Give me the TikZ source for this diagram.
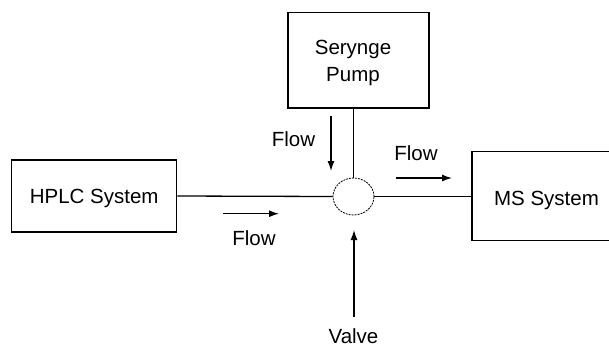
\documentclass[tikz,border=0pt]{standalone}
\usepackage{fontspec}
\setmainfont{Liberation Sans}
\usetikzlibrary{arrows.meta,shapes.geometric}
\begin{document}
\begin{tikzpicture}[x=1pt,y=-1pt,
  every node/.style={font=\fontsize{20.5}{26.7}\selectfont, inner sep=0pt},
  box/.style={draw, line width=1.3pt, rectangle, text height=14.7pt, text depth=0pt, align=center},
  pipe/.style={line width=1.3pt},
  flowarrow/.style={line width=1.3pt, -{Latex[length=10pt,width=7pt]}},
  lbl/.style={anchor=base}]
\useasboundingbox (0,0) rectangle (609,346);
\clip (0,0) rectangle (609,346);
\fill[white] (0,0) rectangle (609,346);
% boxes
\node[box, minimum width=165pt, minimum height=72pt] (hplc) at (94.2,196) {HPLC System};
\node[box, minimum width=141pt, minimum height=95.3pt] (pump) at (358.5,60.3) {};
\node[align=center, anchor=base] (pumptext) at (353,81.4) {Serynge\\Pump};
\node[box, minimum width=149pt, minimum height=89pt] (ms) at (546.5,196.2) {};
\node[anchor=base] (mstext) at (546.5,205) {MS System};
% valve
\node[draw, ellipse, dashed, dash pattern=on 2pt off 1pt, line width=0.8pt, minimum width=41pt, minimum height=37pt] (valve) at (353.5,196.5) {};
% pipes
\draw[pipe] (hplc.east) -- (valve.west);
\draw[pipe] (valve.east) -- (ms.west |- valve.east);
\draw[pipe] (valve.north |- pump.south) -- (valve.north);
% flow arrows
\coordinate (f1s) at (223,213.7); \coordinate (f1e) at (279,213.7);
\coordinate (f2s) at (331,116);   \coordinate (f2e) at (331,171);
\coordinate (f3s) at (396,178);   \coordinate (f3e) at (452,178);
\coordinate (f4s) at (354,317);   \coordinate (f4e) at (354,230);
\draw[flowarrow] (f1s) -- (f1e);
\draw[flowarrow] (f2s) -- (f2e);
\draw[flowarrow] (f3s) -- (f3e);
\draw[flowarrow] (f4s) -- (f4e);
% labels
\node[lbl] (flow1) at (254,245) {Flow};
\node[lbl] (flow2) at (293.5,146.7) {Flow};
\node[lbl] (flow3) at (416,160) {Flow};
\node[lbl] (valvetext) at (353.5,343.5) {Valve};
\end{tikzpicture}
\end{document}
